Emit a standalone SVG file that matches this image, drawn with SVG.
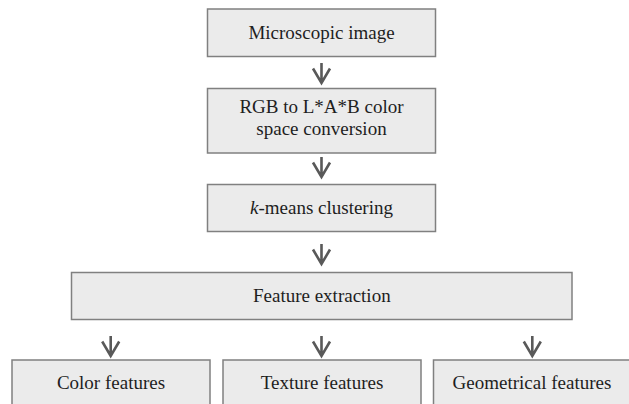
<svg xmlns="http://www.w3.org/2000/svg" xmlns:xlink="http://www.w3.org/1999/xlink" width="629" height="404" viewBox="0 0 629 404">
  <style>
    .box { fill: #ebebeb; stroke: #808080; stroke-width: 1.5; }
    .lbl { font-family: 'Liberation Serif', 'DejaVu Serif', serif; font-size: 19px; fill: #1e1e1e; text-anchor: middle; }
    .arr { fill: none; stroke: #595959; stroke-width: 2.6; stroke-linejoin: miter; stroke-linecap: butt; }
  </style>
  <defs>
    <path id="arrow" class="arr" d="M0,-21 V-1 M-8.5,-15.5 L0,-1 L8.5,-15.5"/>
  </defs>
  <rect width="629" height="404" fill="#ffffff"/>

  <g id="node-microscopic">
    <rect class="box" x="207.5" y="9" width="228" height="47.5"/>
    <text class="lbl" font-family="Liberation Serif, serif" x="321.5" y="39">Microscopic image</text>
  </g>
  <g id="node-rgb-lab">
    <rect class="box" x="207.5" y="88.5" width="228" height="64.5"/>
    <text class="lbl" x="321.5" y="113">RGB to L*A*B color</text>
    <text class="lbl" x="321.5" y="134.5">space conversion</text>
  </g>
  <g id="node-kmeans">
    <rect class="box" x="207.5" y="184.5" width="228" height="47"/>
    <text class="lbl" x="321.5" y="214"><tspan font-style="italic">k</tspan>-means clustering</text>
  </g>
  <g id="node-feature-extraction">
    <rect class="box" x="71.5" y="272.5" width="500.5" height="47"/>
    <text class="lbl" x="321.8" y="302">Feature extraction</text>
  </g>
  <g id="node-color">
    <rect class="box" x="12" y="360" width="198" height="60"/>
    <text class="lbl" x="111" y="388.5">Color features</text>
  </g>
  <g id="node-texture">
    <rect class="box" x="223" y="360" width="198" height="60"/>
    <text class="lbl" x="322" y="388.5">Texture features</text>
  </g>
  <g id="node-geometrical">
    <rect class="box" x="433.5" y="360" width="210" height="60"/>
    <text class="lbl" x="532" y="388.5">Geometrical features</text>
  </g>

  <g id="connectors">
    <use xlink:href="#arrow" x="321.5" y="84"/>
    <use xlink:href="#arrow" x="321.5" y="178"/>
    <use xlink:href="#arrow" x="321.5" y="265"/>
    <use xlink:href="#arrow" x="110.7" y="357"/>
    <use xlink:href="#arrow" x="321.5" y="357"/>
    <use xlink:href="#arrow" x="532.3" y="357"/>
  </g>
</svg>
